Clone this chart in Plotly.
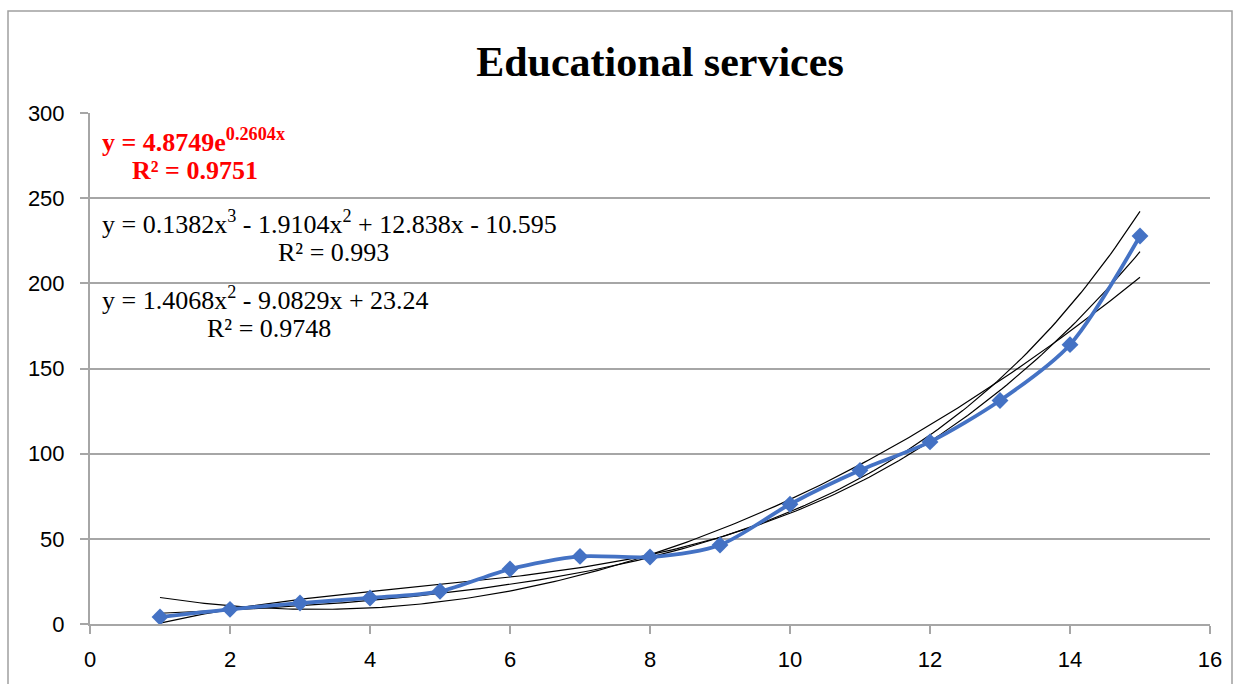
import numpy as np
import plotly.graph_objects as go

# Observed series
x_vals = [1, 2, 3, 4, 5, 6, 7, 8, 9, 10, 11, 12, 13, 14, 15]
y_vals = [4.1, 8.6, 12.3, 15.3, 19.2, 32.3, 39.7, 39.3, 46.4, 70.3, 90.2, 106.9, 131.2, 164.0, 227.8]

# Fitted trend-line coefficients
exp_a, exp_b = 4.8749, 0.2604
cubic_coef = [0.1382, -1.9104, 12.838, -10.595]
quad_coef = [1.4068, -9.0829, 23.24]

x_ticks = [0, 2, 4, 6, 8, 10, 12, 14, 16]
y_ticks = [0, 50, 100, 150, 200, 250, 300]

xs = np.linspace(min(x_vals), max(x_vals), 200)
fits = [
    exp_a * np.exp(exp_b * xs),
    np.polyval(cubic_coef, xs),
    np.polyval(quad_coef, xs),
]

fig = go.Figure()
for fy in fits:
    fig.add_trace(go.Scatter(x=xs, y=fy, mode="lines",
                             line=dict(color="black", width=1.2),
                             hoverinfo="skip", showlegend=False))

fig.add_trace(go.Scatter(
    x=x_vals, y=y_vals, mode="lines+markers",
    line=dict(color="#4472C4", width=3.8, shape="spline", smoothing=0.8),
    marker=dict(symbol="diamond", size=13, color="#4472C4"),
    showlegend=False))

serif = "Liberation Serif"
anns = [
    dict(text="<b>y = 4.8749e<sup>0.2604x</sup></b>", x=100, y=140, color="#FF0000"),
    dict(text="<b>R² = 0.9751</b>", x=130, y=170, color="#FF0000"),
    dict(text="y = 0.1382x<sup>3</sup> - 1.9104x<sup>2</sup> + 12.838x - 10.595", x=100, y=222, color="black"),
    dict(text="R² = 0.993", x=276, y=252, color="black"),
    dict(text="y = 1.4068x<sup>2</sup> - 9.0829x + 23.24", x=100, y=298, color="black"),
    dict(text="R² = 0.9748", x=205, y=328, color="black"),
]
L, R, T, B = 90, 1210, 113, 624
for a in anns:
    fig.add_annotation(
        text=a["text"], xref="paper", yref="paper",
        x=(a["x"] - L) / (R - L), y=(B - a["y"]) / (B - T),
        xanchor="left", yanchor="middle", showarrow=False,
        font=dict(family=serif, size=26, color=a["color"]))

# chart frame
fig.add_shape(type="rect", xref="paper", yref="paper",
              x0=(8 - L) / (R - L), x1=(1232 - L) / (R - L),
              y0=(B - 700) / (B - T), y1=(B - 11) / (B - T),
              line=dict(color="#a0a0a0", width=1.5), layer="below")

tick_font = dict(family="Liberation Sans", size=22, color="black")
fig.update_layout(
    width=1243, height=684,
    margin=dict(l=L, r=1243 - R, t=T, b=684 - B, autoexpand=False),
    paper_bgcolor="white", plot_bgcolor="white",
    title=dict(text="<b>Educational services</b>", x=660 / 1243, xanchor="center",
               y=1 - 61 / 684, yanchor="middle",
               font=dict(family=serif, size=42, color="black")),
    xaxis=dict(range=[0, 16], tickvals=x_ticks, showgrid=False, zeroline=False,
               showline=True, linecolor="#a6a6a6", linewidth=2,
               ticks="outside", ticklen=8, tickcolor="#a6a6a6", tickwidth=2,
               ticklabelstandoff=7, tickfont=tick_font, automargin=False),
    yaxis=dict(range=[0, 300], tickvals=y_ticks, showgrid=True, gridcolor="#a6a6a6",
               gridwidth=2, zeroline=False, showline=True, linecolor="#a6a6a6",
               linewidth=2, ticks="outside", ticklen=8, tickcolor="#a6a6a6",
               tickwidth=2, ticklabelstandoff=11, tickfont=tick_font, automargin=False),
)

fig.write_html("out.html")
